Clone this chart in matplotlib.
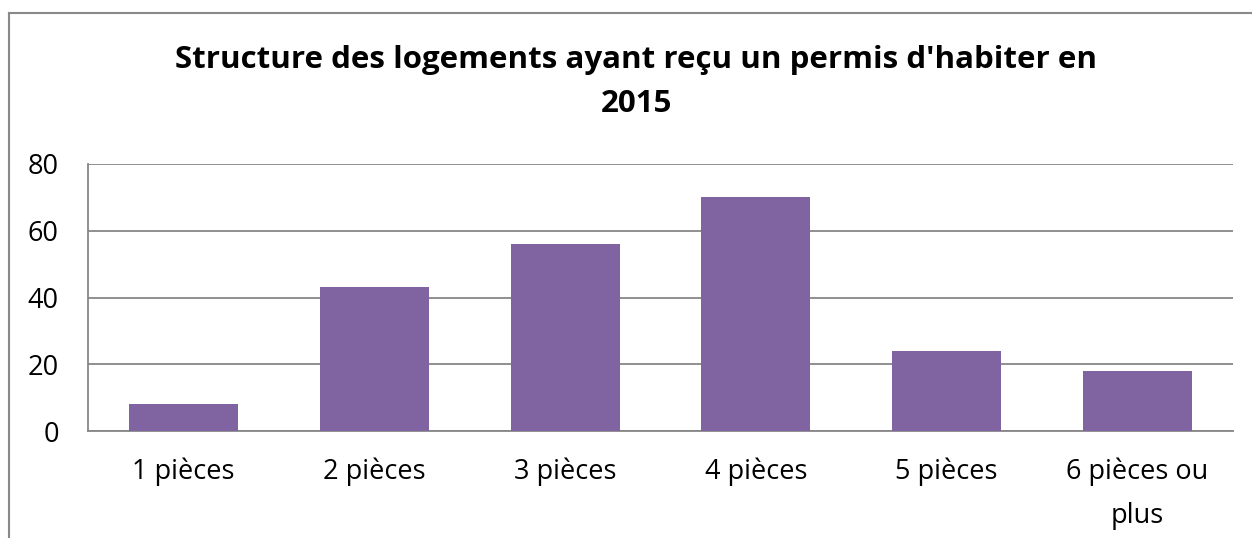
import matplotlib.pyplot as plt
from matplotlib.lines import Line2D

categories = ['1 pièces', '2 pièces', '3 pièces', '4 pièces', '5 pièces', '6 pièces ou\nplus']
values = [8, 43, 56, 70, 24, 18]
yticks = [0, 20, 40, 60, 80]

plt.rcParams['font.family'] = ['Open Sans', 'DejaVu Sans']

W, H = 1252, 538
fig = plt.figure(figsize=(W / 100, H / 100), dpi=100)

# plot area in pixels: left 88, right 1233, top 164, bottom 431
ax = fig.add_axes([88 / W, 1 - 431 / H, (1233 - 88) / W, (431 - 164) / H])

grid_col = '#878787'
ax.bar(range(len(values)), values, width=1 / 1.75, color='#8064A2', zorder=3)
ax.set_xlim(-0.5, len(values) - 0.5)
ax.set_ylim(0, 80)
ax.set_yticks(yticks)
ax.set_xticks(range(len(categories)))
ax.set_xticklabels(categories, fontsize=19.5, linespacing=1.75)
ax.tick_params(axis='y', labelsize=19.5, length=0, pad=21)
ax.tick_params(axis='x', length=0, pad=19)
ax.grid(axis='y', color=grid_col, linewidth=1.3, zorder=0)
for side in ['top', 'right']:
    ax.spines[side].set_visible(False)
for side in ['left', 'bottom']:
    ax.spines[side].set_color(grid_col)
    ax.spines[side].set_linewidth(1.3)

fig.text(636 / W, 1 - 82 / H, "Structure des logements ayant reçu un permis d'habiter en\n2015",
         ha='center', va='center', fontsize=22.5, fontweight='bold', linespacing=1.6)

# outer chart frame (cut on right and bottom)
frame_col = '#898989'
fig.add_artist(Line2D([9 / W, 9 / W], [0, 1 - 13 / H], color=frame_col, linewidth=1.5))
fig.add_artist(Line2D([9 / W, 1], [1 - 13 / H, 1 - 13 / H], color=frame_col, linewidth=1.5))

fig.savefig('out.png', dpi=100)
